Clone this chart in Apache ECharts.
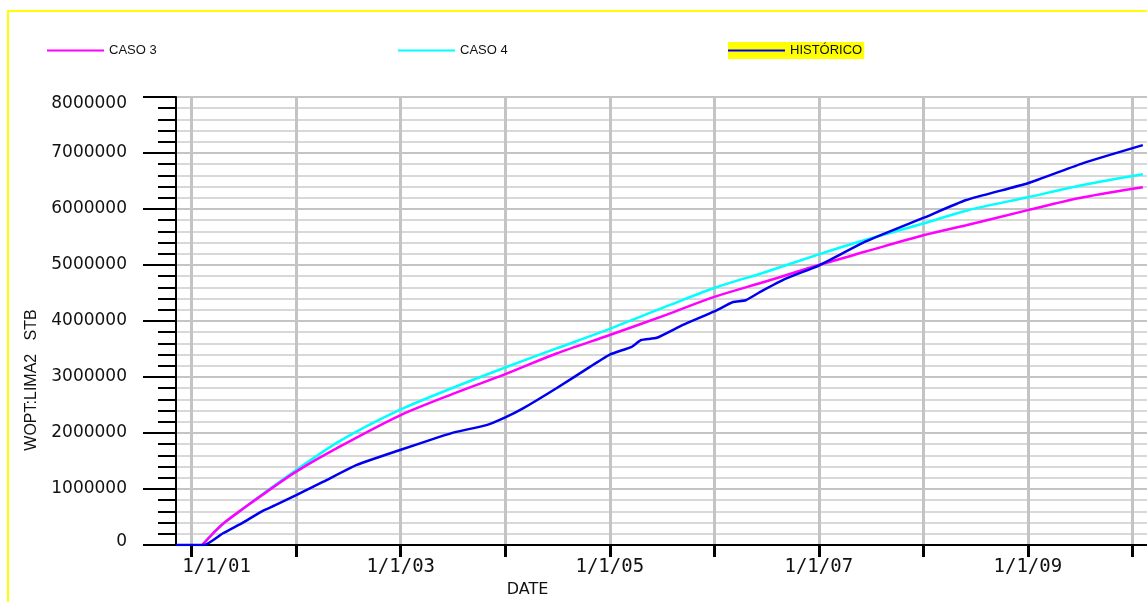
<!DOCTYPE html>
<html>
<head>
<meta charset="utf-8">
<script src="https://cdn.jsdelivr.net/npm/echarts@6/dist/echarts.min.js"></script>
<style>
  html, body { margin: 0; padding: 0; background: #fff; }
  #chart { width: 1147px; height: 602px; }
</style>
</head>
<body>
<div id="chart"></div>
<script>
// [year, STB]
const caso3 = [
  [2001.10, 0], [2001.20, 200000], [2001.30, 380000], [2001.50, 660000], [2001.68, 900000],
  [2002.00, 1310000], [2002.42, 1760000], [2003.00, 2320000], [2003.53, 2720000],
  [2004.00, 3050000], [2004.49, 3420000], [2005.00, 3750000], [2005.54, 4110000],
  [2006.00, 4430000], [2006.50, 4710000], [2007.00, 5000000], [2007.45, 5240000],
  [2008.00, 5530000], [2008.41, 5710000], [2009.00, 5980000], [2009.53, 6210000],
  [2010.10, 6390000],
];
const caso4 = [
  [2001.10, 0], [2001.20, 200000], [2001.30, 380000], [2001.50, 660000], [2001.68, 910000],
  [2002.00, 1340000], [2002.42, 1860000], [2003.00, 2420000], [2003.53, 2830000],
  [2004.00, 3170000], [2004.49, 3510000], [2005.00, 3860000], [2005.54, 4260000],
  [2006.00, 4590000], [2006.50, 4880000], [2007.00, 5190000], [2007.45, 5450000],
  [2008.00, 5740000], [2008.41, 5970000], [2009.00, 6210000], [2009.53, 6430000],
  [2010.10, 6620000],
];
const historico = [
  [2000.85, 0], [2001.12, 0], [2001.30, 210000], [2001.50, 410000], [2001.68, 610000],
  [2001.80, 710000], [2002.00, 890000], [2002.26, 1130000], [2002.58, 1430000],
  [2003.00, 1700000], [2003.37, 1930000], [2003.53, 2020000], [2003.82, 2140000],
  [2004.00, 2280000], [2004.17, 2440000], [2004.49, 2800000], [2004.81, 3180000],
  [2005.00, 3400000], [2005.21, 3540000], [2005.30, 3660000], [2005.45, 3700000],
  [2005.70, 3930000], [2006.00, 4170000], [2006.18, 4340000], [2006.30, 4370000],
  [2006.44, 4520000], [2006.69, 4760000], [2007.00, 4990000], [2007.45, 5420000],
  [2008.00, 5840000], [2008.41, 6160000], [2009.00, 6460000], [2009.53, 6820000],
  [2010.10, 7140000],
];
const tickYears = [2001, 2002, 2003, 2004, 2005, 2006, 2007, 2008, 2009, 2010];
const labelYears = [2001, 2003, 2005, 2007, 2009];

const black = '#000';
const gridGray = '#c4c4c4';

const legendBase = {
  orient: 'horizontal',
  icon: 'rect',
  itemWidth: 57,
  itemHeight: 2,
  padding: 0,
  selectedMode: false,
  textStyle: { fontFamily: 'Liberation Sans', fontSize: 13, color: '#111' },
};

const lineSeries = (name, data, color, z, smooth) => ({
  name, type: 'line', data, z,
  showSymbol: false, symbol: 'none',
  smooth,
  color, lineStyle: { color, width: 2.5 },
});

const chart = echarts.init(document.getElementById('chart'));
chart.setOption({
  animation: false,
  backgroundColor: '#fff',
  graphic: [{
    type: 'rect',
    silent: true,
    shape: { x: 8, y: 11, width: 1200, height: 700 },
    style: { fill: 'none', stroke: '#ffff00', lineWidth: 2 },
  }],
  legend: [
    { ...legendBase, data: ['CASO 3'], left: 47, top: 44 },
    { ...legendBase, data: ['CASO 4'], left: 398, top: 44 },
    {
      ...legendBase, data: ['HISTÓRICO'], left: 728, top: 42,
      backgroundColor: '#ffff00', padding: [2, 2, 2, 0],
    },
  ],
  grid: {
    left: 176, right: 0, top: 97, bottom: 57,
    containLabel: false, outerBoundsMode: 'none',
  },
  xAxis: {
    type: 'value',
    min: 2000.85,
    max: 2010.14,
    name: 'DATE',
    nameLocation: 'middle',
    nameGap: 37,
    nameTextStyle: {
      fontFamily: 'DejaVu Sans', fontSize: 16, color: '#111',
      padding: [0, 268, 0, 0],
    },
    axisLine: { show: true, lineStyle: { color: black, width: 2 } },
    axisTick: {
      show: true, length: 12, customValues: tickYears,
      lineStyle: { color: black, width: 3 },
    },
    axisLabel: {
      customValues: labelYears,
      margin: 13,
      fontFamily: 'DejaVu Sans Mono',
      fontSize: 19,
      color: '#111',
      formatter: (v) => {
        const s = '1/1/' + String(Math.round(v) % 100).padStart(2, '0');
        return Math.round(v) === 2001 ? '{first|' + s + '}' : s;
      },
      rich: {
        first: {
          fontFamily: 'DejaVu Sans Mono', fontSize: 19, color: '#111',
          padding: [0, 0, 0, 50],
        },
      },
    },
    splitLine: { show: true, lineStyle: { color: gridGray, width: 3 } },
  },
  yAxis: {
    type: 'value',
    min: 0,
    max: 8000000,
    interval: 1000000,
    name: 'WOPT:LIMA2   STB',
    nameLocation: 'middle',
    nameRotate: 90,
    nameGap: 136,
    nameTextStyle: {
      fontFamily: 'Liberation Sans', fontSize: 16, color: '#111',
      padding: [0, 118, 0, 0],
    },
    axisLine: { show: true, lineStyle: { color: black, width: 2 } },
    axisTick: { show: true, length: 33, lineStyle: { color: black, width: 2 } },
    minorTick: { show: true, splitNumber: 5, length: 18, lineStyle: { color: black, width: 2 } },
    axisLabel: {
      margin: 49,
      fontFamily: 'DejaVu Sans',
      fontSize: 17,
      color: '#111',
      showMinLabel: true,
      showMaxLabel: true,
      formatter: (v) => {
        if (v === 8000000) return '{top|' + v + '}';
        if (v === 0) return '{bot|0}';
        return String(v);
      },
      rich: {
        top: { fontFamily: 'DejaVu Sans', fontSize: 17, color: '#111', padding: [14, 0, 0, 0] },
        bot: { fontFamily: 'DejaVu Sans', fontSize: 17, color: '#111', padding: [0, 0, 6, 0] },
      },
    },
    splitLine: { show: true, lineStyle: { color: gridGray, width: 2 } },
    minorSplitLine: { show: true, lineStyle: { color: '#cccccc', width: 1.5 } },
  },
  series: [
    lineSeries('CASO 3', caso3, '#ff00ff', 3, 0.3),
    lineSeries('CASO 4', caso4, '#00ffff', 2, 0.3),
    lineSeries('HISTÓRICO', historico, '#0000ee', 4, 0.15),
  ],
});
</script>
</body>
</html>
